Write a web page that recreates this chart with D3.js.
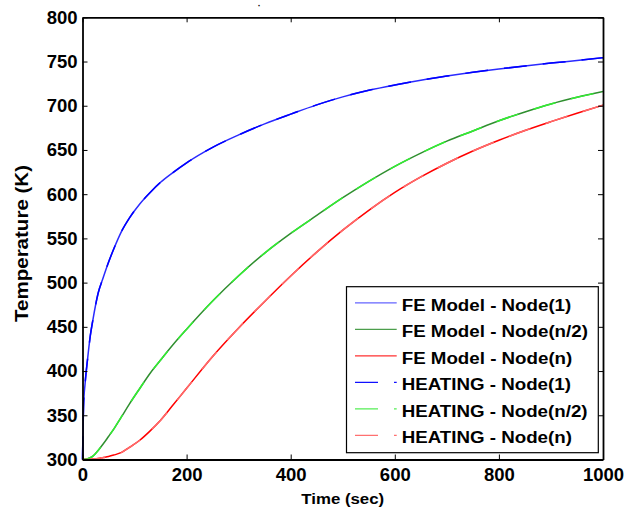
<!DOCTYPE html>
<html>
<head>
<meta charset="utf-8">
<script src="https://cdn.jsdelivr.net/npm/d3@7"></script>
<style>
  html, body { margin: 0; padding: 0; background: #fff; }
  svg { display: block; }
  text { font-family: "Liberation Sans", Arial, sans-serif; font-weight: bold; fill: #000; }
</style>
</head>
<body>
<svg id="chart" width="624" height="512"></svg>
<script>
// Time samples (s)
const time = [0, 2, 5, 10, 15, 20, 30, 40, 50, 60, 75, 90, 110, 130, 150, 175, 200,
  250, 300, 350, 400, 450, 500, 550, 600, 650, 700, 750, 800, 850, 900, 950, 1000];

// Finite-element model temperatures (K)
const feNode1 = [300, 360, 386, 415, 440, 458, 488, 506, 523, 538, 558, 573, 589, 602, 613.5, 625, 635.5,
  653, 667, 679.5, 690.5, 701, 710, 717.5, 723.5, 728.8, 733.5, 737.8, 741.6, 745, 748.2, 751.2, 754.3];
const feNodeHalf = [300, 300, 300.3, 301, 302.2, 303.8, 310.2, 317.8, 326, 334.3, 348.4, 362.6, 380.3, 397.5, 412.4, 430.5, 447.3,
  479.2, 507.7, 533.4, 555.7, 576, 596, 614.5, 631.5, 646.5, 660, 671.5, 683, 693, 702, 709.5, 716];
const feNodeN = [300, 300, 300, 300, 300.2, 300.5, 301.2, 302.3, 303.4, 305, 308, 313.7, 321.8, 332.4, 344.4, 362.4, 380.5,
  416.5, 448.7, 478.7, 507.5, 534.5, 559.3, 581.8, 602, 619.5, 635, 648.8, 661, 672, 682, 691.5, 700.7];

// HEATING code temperatures (K)
const heatNode1 = [300, 360, 386, 415, 440, 458, 488, 506, 523, 538, 558, 573, 589, 602, 613.5, 625, 635.5,
  653, 667, 679.5, 690.5, 701, 710, 717.5, 723.5, 728.8, 733.5, 737.8, 741.6, 745, 748.2, 751.2, 754.3];
const heatNodeHalf = [300, 300, 300.3, 301, 302.2, 303.8, 310.2, 317.8, 326, 334.3, 348.4, 362.6, 380.3, 397.5, 412.4, 430.5, 447.3,
  479.2, 507.7, 533.4, 555.7, 576, 596, 614.5, 631.5, 646.5, 660, 671.5, 683, 693, 702, 709.5, 716];
const heatNodeN = [300, 300, 300, 300, 300.2, 300.5, 301.2, 302.3, 303.4, 305, 308, 313.7, 321.8, 332.4, 344.4, 362.4, 380.5,
  416.5, 448.7, 478.7, 507.5, 534.5, 559.3, 581.8, 602, 619.5, 635, 648.8, 661, 672, 682, 691.5, 700.7];

const xTicks = [0, 200, 400, 600, 800, 1000];
const yTicks = [300, 350, 400, 450, 500, 550, 600, 650, 700, 750, 800];

const legendLabels = [
  "FE Model - Node(1)", "FE Model - Node(n/2)", "FE Model - Node(n)",
  "HEATING - Node(1)", "HEATING - Node(n/2)", "HEATING - Node(n)"
];

const series = [
  { values: feNode1,      color: "#2a2aff", legendColor: "#6464ff", dash: null },
  { values: feNodeHalf,   color: "#2f8f2f", legendColor: "#4c9e4c", dash: null },
  { values: feNodeN,      color: "#ff0000", legendColor: "#ff3030", dash: null },
  { values: heatNode1,    color: "#0000ff", legendColor: "#1010ff", dash: "23,16" },
  { values: heatNodeHalf, color: "#33ee33", legendColor: "#55ee55", dash: "23,16" },
  { values: heatNodeN,    color: "#ff6a6a", legendColor: "#ff7070", dash: "23,16" }
];

const svg = d3.select("#chart");
const plotLeft = 82.5, plotRight = 603, plotTop = 17.3, plotBottom = 459.5;

const x = d3.scaleLinear().domain([0, 1000]).range([plotLeft, plotRight]);
const y = d3.scaleLinear().domain([300, 800]).range([plotBottom, plotTop]);

// Curves
const line = d3.line()
  .x((d, i) => x(time[i]))
  .y(d => y(d))
  .curve(d3.curveMonotoneX);
const curves = svg.append("g").attr("fill", "none");
series.forEach(s => {
  curves.append("path")
    .attr("d", line(s.values))
    .attr("stroke", s.color)
    .attr("stroke-width", 1.5)
    .attr("stroke-dasharray", s.dash);
});

// Axes (box with inward ticks on all sides)
const tickLen = -5;
const styleAxis = g => {
  g.select(".domain").attr("stroke", "#000").attr("stroke-width", 1.8);
  g.selectAll(".tick line").attr("stroke", "#000").attr("stroke-width", 1);
  g.selectAll(".tick text").attr("font-size", "18.5px").attr("font-family", null);
};

svg.append("g").attr("transform", `translate(0,${plotBottom})`)
  .call(d3.axisBottom(x).tickValues(xTicks).tickFormat(d3.format("d")).tickSize(tickLen).tickSizeOuter(0).tickPadding(8.5))
  .call(styleAxis);
svg.append("g").attr("transform", `translate(${plotLeft},0)`)
  .call(d3.axisLeft(y).tickValues(yTicks).tickFormat(d3.format("d")).tickSize(tickLen).tickSizeOuter(0).tickPadding(5))
  .call(styleAxis);
svg.append("g").attr("transform", `translate(0,${plotTop})`)
  .call(d3.axisTop(x).tickValues(xTicks).tickFormat("").tickSize(tickLen).tickSizeOuter(0))
  .call(styleAxis);
svg.append("g").attr("transform", `translate(${plotRight},0)`)
  .call(d3.axisRight(y).tickValues(yTicks).tickFormat("").tickSize(tickLen).tickSizeOuter(0))
  .call(styleAxis);

// Axis titles
svg.append("text")
  .attr("transform", `translate(${(plotLeft + plotRight) / 2},504) scale(1.16,1)`)
  .attr("text-anchor", "middle")
  .attr("font-size", "14.5px")
  .text("Time (sec)");
svg.append("text")
  .attr("transform", "translate(28.3,243.5) rotate(-90) scale(1.16,1)")
  .attr("text-anchor", "middle")
  .attr("font-size", "17.7px")
  .text("Temperature (K)");

// Title remnant
svg.append("text")
  .attr("x", 259.3).attr("y", 8.5)
  .attr("text-anchor", "middle")
  .attr("font-size", "9px")
  .text("·");

// Legend
const legend = svg.append("g");
legend.append("rect")
  .attr("x", 346.5).attr("y", 286.7)
  .attr("width", 251.8).attr("height", 166)
  .attr("fill", "#fff").attr("stroke", "#000").attr("stroke-width", 1.2);

const rowY = d3.scalePoint().domain(d3.range(legendLabels.length)).range([302.8, 435.3]);
legendLabels.forEach((label, i) => {
  const s = series[i];
  const yy = rowY(i);
  legend.append("line")
    .attr("x1", 355).attr("x2", 396.7)
    .attr("y1", yy).attr("y2", yy)
    .attr("stroke", s.legendColor)
    .attr("stroke-width", 1.2)
    .attr("stroke-dasharray", s.dash);
  legend.append("text")
    .attr("transform", `translate(401.7,${yy + 8}) scale(1.15,1)`)
    .attr("font-size", "16.3px")
    .text(label);
});
</script>
</body>
</html>
